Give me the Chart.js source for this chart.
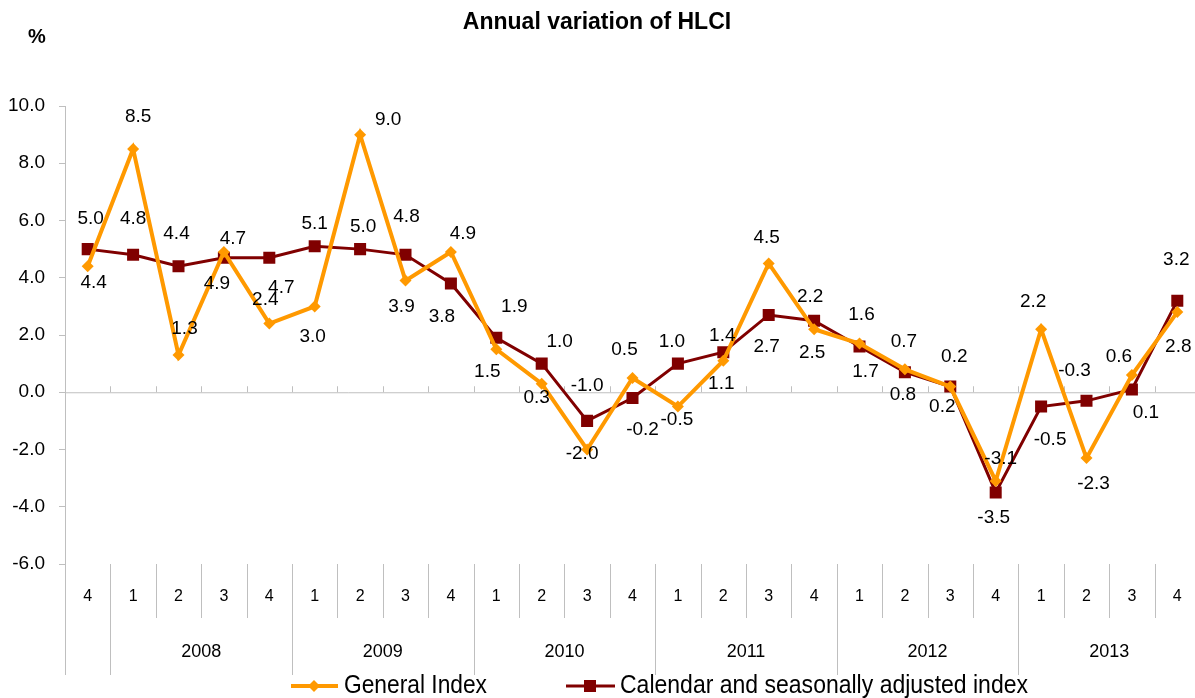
<!DOCTYPE html>
<html>
<head>
<meta charset="utf-8">
<script src="https://cdn.jsdelivr.net/npm/chart.js@4"></script>
<style>
  html, body { margin: 0; padding: 0; background: #fff; overflow: hidden; }
  #wrap { width: 1195px; height: 698px; overflow: hidden; }
  canvas { display: block; }
</style>
</head>
<body>
<div id="wrap"><canvas id="myChart" width="1210" height="698"></canvas></div>
<script>
const quarters = ["4", "1", "2", "3", "4", "1", "2", "3", "4", "1", "2", "3", "4",
  "1", "2", "3", "4", "1", "2", "3", "4", "1", "2", "3", "4"];
const years = ["", "2008", "2008", "2008", "2008", "2009", "2009", "2009", "2009",
  "2010", "2010", "2010", "2010", "2011", "2011", "2011", "2011",
  "2012", "2012", "2012", "2012", "2013", "2013", "2013", "2013"];

const generalIndex = [4.4, 8.5, 1.3, 4.9, 2.4, 3.0, 9.0, 3.9, 4.9, 1.5, 0.3, -2.0, 0.5,
  -0.5, 1.1, 4.5, 2.2, 1.7, 0.8, 0.2, -3.1, 2.2, -2.3, 0.6, 2.8];
const adjustedIndex = [5.0, 4.8, 4.4, 4.7, 4.7, 5.1, 5.0, 4.8, 3.8, 1.9, 1.0, -1.0, -0.2,
  1.0, 1.4, 2.7, 2.5, 1.6, 0.7, 0.2, -3.5, -0.5, -0.3, 0.1, 3.2];

const yTicks = [-6, -4, -2, 0, 2, 4, 6, 8, 10];

// where each value label sits relative to its point (px)
const orangeLabelOffset = [[6, 16], [5, -32], [6, -26], [-7, 32], [-4, -24], [-2, 30], [28, -15],
  [-4, 26], [12, -18], [-9, 22], [-5, 14], [-5, 4], [-8, -28], [-1, 13], [-2, 23], [-2, -26],
  [-4, -33], [6, 28], [-2, 25], [-8, 20], [5, -22], [-8, -28], [7, 26], [-13, -18], [1, 35]];
const maroonLabelOffset = [[3, -30], [0, -36], [-2, -33], [9, -19], [12, 30], [0, -22], [3, -22],
  [1, -38], [-9, 33], [18, -31], [18, -22], [0, -35], [10, 32], [-6, -22], [-1, -16], [-2, 32],
  [-2, 32], [2, -32], [-1, -30], [4, -30], [-2, 25], [9, 33], [-12, -30], [14, 23], [-1, -41]];

const ORANGE = "#FF9900";
const MAROON = "#800000";
const GREY = "#BFBFBF";
const FONT = "'Liberation Sans', Arial, sans-serif";

const labels = quarters.map((q, i) => (years[i] || "2007") + " Q" + q);

const extras = {
  id: "extras",
  beforeDatasetsDraw(chart) {
    const ctx = chart.ctx;
    const area = chart.chartArea;
    const x = chart.scales.x;
    const y0 = chart.scales.y.getPixelForValue(0);
    const step = x.getPixelForValue(1) - x.getPixelForValue(0);
    ctx.save();
    ctx.strokeStyle = GREY;
    ctx.lineWidth = 1;
    ctx.beginPath();
    ctx.moveTo(area.left, y0 + 0.5);
    ctx.lineTo(area.right, y0 + 0.5);
    for (let i = 1; i < quarters.length; i++) {
      const bx = Math.round(x.getPixelForValue(i) - step / 2) + 0.5;
      ctx.moveTo(bx, y0 - 6);
      ctx.lineTo(bx, y0);
    }
    ctx.stroke();
    ctx.restore();
  },
  afterDraw(chart) {
    const ctx = chart.ctx;
    const area = chart.chartArea;
    const x = chart.scales.x;
    const step = x.getPixelForValue(1) - x.getPixelForValue(0);
    ctx.save();

    // title and unit
    ctx.fillStyle = "#000";
    ctx.textAlign = "center";
    ctx.textBaseline = "middle";
    ctx.font = "bold 23px " + FONT;
    ctx.fillText("Annual variation of HLCI", 597, 23);
    ctx.font = "bold 20px " + FONT;
    ctx.fillText("%", 37, 37);

    // category area below the plot
    ctx.strokeStyle = GREY;
    ctx.lineWidth = 1;
    ctx.beginPath();
    ctx.moveTo(area.left + 0.5, area.bottom);
    ctx.lineTo(area.left + 0.5, 675);
    for (let i = 1; i < quarters.length; i++) {
      const bx = Math.round(x.getPixelForValue(i) - step / 2) + 0.5;
      const yearEdge = years[i] !== years[i - 1];
      ctx.moveTo(bx, area.bottom);
      ctx.lineTo(bx, yearEdge ? 675 : 618);
    }
    ctx.stroke();

    ctx.font = "16px " + FONT;
    quarters.forEach((q, i) => ctx.fillText(q, x.getPixelForValue(i), 597));

    ctx.font = "18px " + FONT;
    let start = 0;
    for (let i = 1; i <= years.length; i++) {
      if (i === years.length || years[i] !== years[start]) {
        if (years[start]) {
          const cx = (x.getPixelForValue(start) + x.getPixelForValue(i - 1)) / 2;
          ctx.fillText(years[start], cx, 652);
        }
        start = i;
      }
    }

    // value labels
    ctx.font = "19px " + FONT;
    const offsets = [orangeLabelOffset, maroonLabelOffset];
    chart.data.datasets.forEach((ds, d) => {
      chart.getDatasetMeta(d).data.forEach((pt, i) => {
        const off = offsets[d][i];
        ctx.fillText(ds.data[i].toFixed(1), pt.x + off[0], pt.y + off[1]);
      });
    });

    // legend
    const ly = 686;
    ctx.lineWidth = 4;
    ctx.strokeStyle = ORANGE;
    ctx.beginPath();
    ctx.moveTo(291, ly);
    ctx.lineTo(338, ly);
    ctx.stroke();
    ctx.fillStyle = ORANGE;
    ctx.beginPath();
    ctx.moveTo(314, ly - 6);
    ctx.lineTo(320, ly);
    ctx.lineTo(314, ly + 6);
    ctx.lineTo(308, ly);
    ctx.closePath();
    ctx.fill();

    ctx.lineWidth = 3;
    ctx.strokeStyle = MAROON;
    ctx.beginPath();
    ctx.moveTo(566, ly);
    ctx.lineTo(615, ly);
    ctx.stroke();
    ctx.fillStyle = MAROON;
    ctx.fillRect(584, ly - 6, 12, 12);

    ctx.fillStyle = "#000";
    ctx.textAlign = "left";
    ctx.font = "25px " + FONT;
    const items = [["General Index", 344, 143], ["Calendar and seasonally adjusted index", 620, 408]];
    items.forEach(([text, tx, w]) => {
      const sx = w / ctx.measureText(text).width;
      ctx.save();
      ctx.translate(tx, ly);
      ctx.scale(sx, 1);
      ctx.fillText(text, 0, 0);
      ctx.restore();
    });

    ctx.restore();
  }
};

new Chart(document.getElementById("myChart"), {
  type: "line",
  data: {
    labels: labels,
    datasets: [
      {
        label: "General Index",
        data: generalIndex,
        borderColor: ORANGE,
        backgroundColor: ORANGE,
        borderWidth: 4,
        pointStyle: "rectRot",
        pointRadius: 6,
        pointBorderWidth: 0,
        pointBackgroundColor: ORANGE,
        tension: 0
      },
      {
        label: "Calendar and seasonally adjusted index",
        data: adjustedIndex,
        borderColor: MAROON,
        backgroundColor: MAROON,
        borderWidth: 3,
        pointStyle: "rect",
        pointRadius: 8.5,
        pointBorderWidth: 0,
        pointBackgroundColor: MAROON,
        tension: 0
      }
    ]
  },
  options: {
    responsive: false,
    animation: false,
    layout: { padding: { top: 106, right: 10, left: 0, bottom: 0 } },
    plugins: {
      legend: { display: false },
      tooltip: { enabled: false }
    },
    scales: {
      x: {
        offset: true,
        ticks: { display: false },
        grid: { display: false },
        border: { display: false },
        afterFit(scale) { scale.height = 134; }
      },
      y: {
        min: -6,
        max: 10,
        afterBuildTicks(scale) { scale.ticks = yTicks.map((v) => ({ value: v })); },
        ticks: {
          color: "#000",
          font: { size: 19, family: FONT },
          padding: 14,
          callback: (v) => v.toFixed(1)
        },
        grid: { drawOnChartArea: false, drawTicks: true, tickLength: 6, color: GREY },
        border: { display: true, color: GREY, width: 1 },
        afterFit(scale) { scale.width = 65; }
      }
    }
  },
  plugins: [extras]
});
</script>
</body>
</html>
